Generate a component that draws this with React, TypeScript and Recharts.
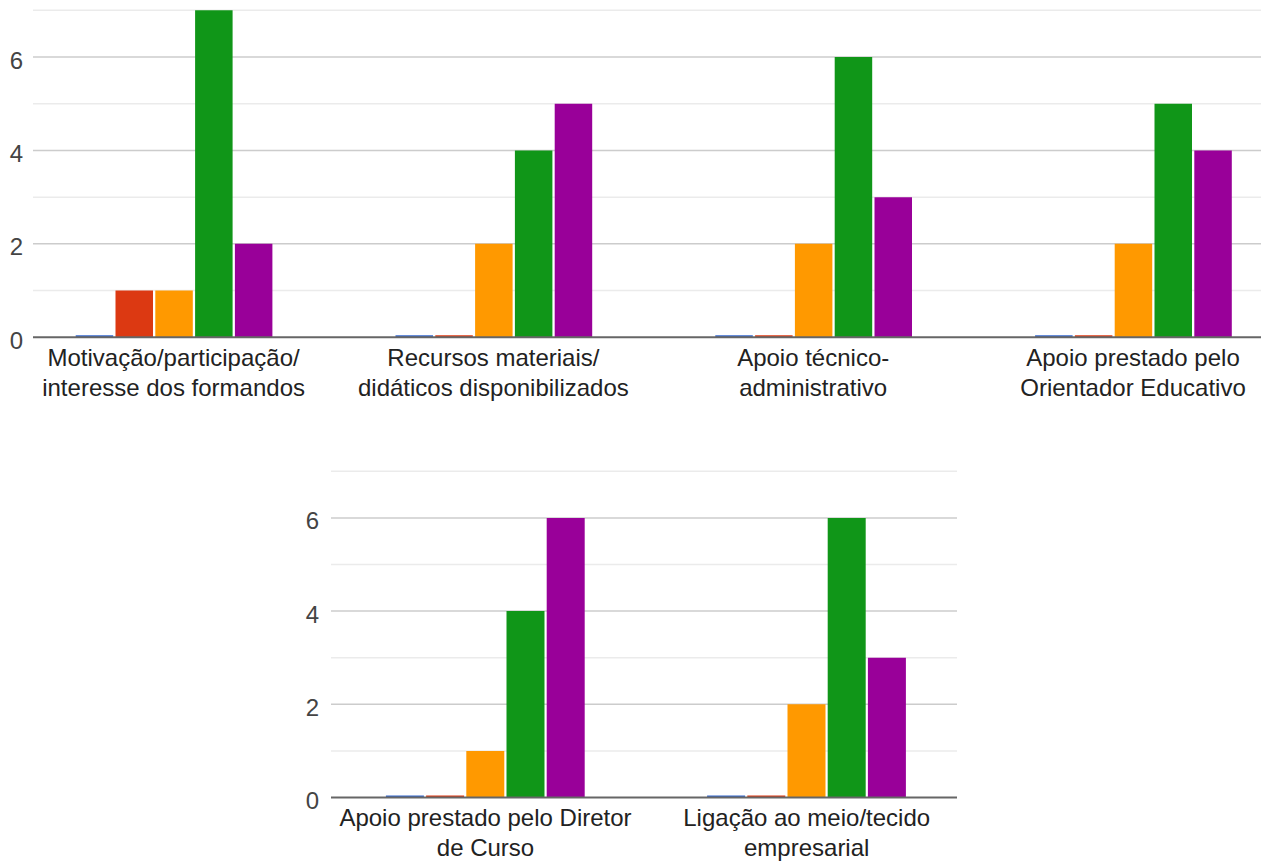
import React from 'react';
import { BarChart, Bar, XAxis, YAxis, CartesianGrid } from 'recharts';

const categories = [
  'Motivação/participação/\ninteresse dos formandos',
  'Recursos materiais/\ndidáticos disponibilizados',
  'Apoio técnico-\nadministrativo',
  'Apoio prestado pelo\nOrientador Educativo',
  'Apoio prestado pelo Diretor\nde Curso',
  'Ligação ao meio/tecido\nempresarial',
];
const series1 = [0, 0, 0, 0, 0, 0];
const series2 = [1, 0, 0, 0, 0, 0];
const series3 = [1, 2, 2, 2, 1, 2];
const series4 = [7, 4, 6, 5, 4, 6];
const series5 = [2, 5, 3, 4, 6, 3];
const seriesNames = ['1', '2', '3', '4', '5'];
const seriesColors = ['#3366cc', '#dc3912', '#ff9900', '#109618', '#990099'];
const yTicks = [0, 2, 4, 6];
const majorValues = [2, 4, 6];
const minorValues = [1, 3, 5, 7];

const allSeries = [series1, series2, series3, series4, series5];
const rows = categories.map((name, i) => {
  const r: any = { name };
  allSeries.forEach((s, k) => {
    r['s' + k] = s[i];
  });
  return r;
});
const topRows = rows.slice(0, 4);
const bottomRows = rows.slice(4);

const FONT = '"Liberation Sans", Arial, sans-serif';

const CategoryTick = (props: any) => {
  const { x, y, payload } = props;
  const lines = String(payload.value).split('\n');
  return (
    <text x={x} y={y} textAnchor="middle" fill="#222222" fontSize={24} fontFamily={FONT}>
      {lines.map((l, i) => (
        <tspan key={i} x={x} dy={i === 0 ? 28.7 : 29.5}>
          {l}
        </tspan>
      ))}
    </text>
  );
};

const ValueTick = (props: any) => {
  const { x, y, payload } = props;
  return (
    <text x={x} y={y} dy={11.5} textAnchor="end" fill="#444444" fontSize={24} fontFamily={FONT}>
      {payload.value}
    </text>
  );
};

function Chart(props: {
  data: any[];
  margin: any;
  yWidth: number;
  padding: { left: number; right: number };
  tickMargin: number;
  barSize: number;
  barGap: number;
}) {
  const { data, margin, yWidth, padding, tickMargin, barSize, barGap } = props;
  return (
    <BarChart width={1261} height={420} data={data} margin={margin} barGap={barGap}>
      <CartesianGrid vertical={false} horizontalValues={minorValues} stroke="#ebebeb" strokeWidth={1.5} />
      <CartesianGrid vertical={false} horizontalValues={majorValues} stroke="#cccccc" strokeWidth={1.5} />
      <XAxis
        dataKey="name"
        height={60}
        padding={padding}
        tickSize={0}
        tickMargin={0}
        interval={0}
        tick={<CategoryTick />}
        axisLine={{ stroke: '#666666', strokeWidth: 2 }}
      />
      <YAxis
        width={yWidth}
        domain={[0, 7]}
        ticks={yTicks}
        tickSize={0}
        tickMargin={tickMargin}
        axisLine={false}
        tick={<ValueTick />}
      />
      {seriesNames.map((n, k) => (
        <Bar
          key={n}
          name={n}
          dataKey={'s' + k}
          fill={seriesColors[k]}
          barSize={barSize}
          minPointSize={2}
          isAnimationActive={false}
        />
      ))}
    </BarChart>
  );
}

export default function App() {
  return (
    <div
      style={{
        position: 'absolute',
        left: 0,
        top: 0,
        width: 1261,
        height: 863,
        overflow: 'hidden',
        background: '#ffffff',
      }}
    >
      <div style={{ position: 'absolute', left: 0, top: 0 }}>
        <Chart
          data={topRows}
          margin={{ top: 10.3, right: 0, left: 0, bottom: 22.7 }}
          yWidth={33}
          padding={{ left: -19.3, right: -31.9 }}
          tickMargin={10}
          barSize={37.5}
          barGap={2.3}
        />
      </div>
      <div style={{ position: 'absolute', left: 0, top: 460 }}>
        <Chart
          data={bottomRows}
          margin={{ top: 11.3, right: 304, left: 291, bottom: 22.5 }}
          yWidth={40}
          padding={{ left: -6.1, right: -10.3 }}
          tickMargin={12}
          barSize={38}
          barGap={2.2}
        />
      </div>
    </div>
  );
}
